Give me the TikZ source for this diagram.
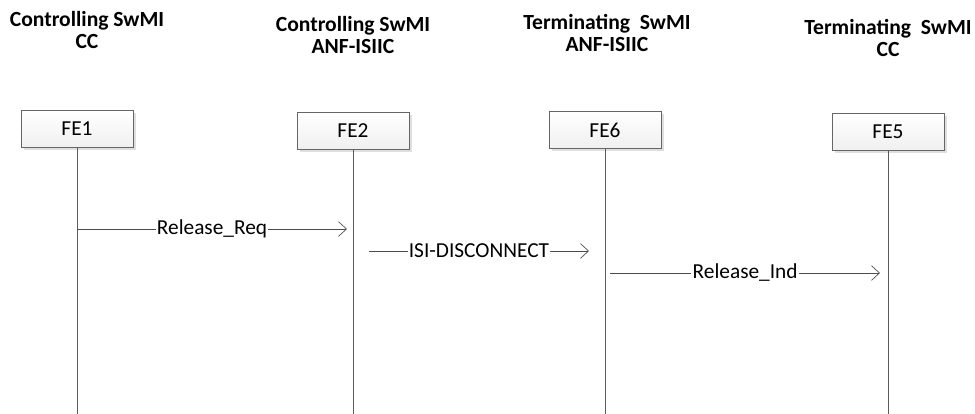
\documentclass[tikz,border=0pt]{standalone}
\usepackage{fontspec}
\setmainfont{Carlito}
\usetikzlibrary{arrows.meta,shadows,positioning}
\tikzstyle{Entity} = [draw=gray!80!black, rectangle, minimum width=84pt, minimum height=28pt, top color=white, bottom color=gray!12, drop shadow={shadow xshift=2pt, shadow yshift=-2pt, fill=gray!25, opacity=1}, font=\fontsize{16}{17}\selectfont]
\tikzstyle{Title} = [align=center, font=\fontsize{16.2}{17}\selectfont\bfseries]
\tikzstyle{Life} = [draw=gray!70!black, line width=0.6pt]
\tikzstyle{Msg} = [draw=gray!60!black, line width=0.5pt, -{Straight Barb[length=6pt, width=11pt, line width=0.5pt]}]
\tikzstyle{Label} = [fill=white, inner sep=1pt, font=\fontsize{16}{17}\selectfont]

\begin{document}
\begin{tikzpicture}[x=0.75pt, y=-0.75pt]
    \useasboundingbox (0,0) rectangle (975,414);
    % column titles
    \node[Title] (t1) at (87,30)  {Controlling SwMI\\CC};
    \node[Title] (t2) at (353,35) {Controlling SwMI\\ANF-ISIIC};
    \node[Title] (t3) at (607,33) {Terminating~ SwMI\\ANF-ISIIC};
    \node[Title] (t4) at (888,38) {Terminating~ SwMI\\CC};
    % functional entities
    \node[Entity] (fe1) at (77,129)  {FE1};
    \node[Entity] (fe2) at (353,131) {FE2};
    \node[Entity] (fe6) at (605,130) {FE6};
    \node[Entity] (fe5) at (888,132) {FE5};
    % lifelines
    \coordinate (end1) at (fe1 |- 0,414);
    \coordinate (end2) at (fe2 |- 0,414);
    \coordinate (end6) at (fe6 |- 0,414);
    \coordinate (end5) at (fe5 |- 0,414);
    \draw[Life] (fe1.south) -- (end1);
    \draw[Life] (fe2.south) -- (end2);
    \draw[Life] (fe6.south) -- (end6);
    \draw[Life] (fe5.south) -- (end5);
    % messages
    \coordinate (req-a) at (fe1 |- 0,229);
    \coordinate (req-b) at ([xshift=-4.5pt]fe2 |- 0,229);
    \coordinate (dis-a) at ([xshift=12pt]fe2 |- 0,251);
    \coordinate (dis-b) at ([xshift=-12pt]fe6 |- 0,251);
    \coordinate (ind-a) at ([xshift=4pt]fe6 |- 0,273);
    \coordinate (ind-b) at ([xshift=-6pt]fe5 |- 0,273);
    \draw[Msg] (req-a) -- node[Label] {Release\_Req} (req-b);
    \draw[Msg] (dis-a) -- node[Label] {ISI-DISCONNECT} (dis-b);
    \draw[Msg] (ind-a) -- node[Label] {Release\_Ind} (ind-b);
\end{tikzpicture}
\end{document}
